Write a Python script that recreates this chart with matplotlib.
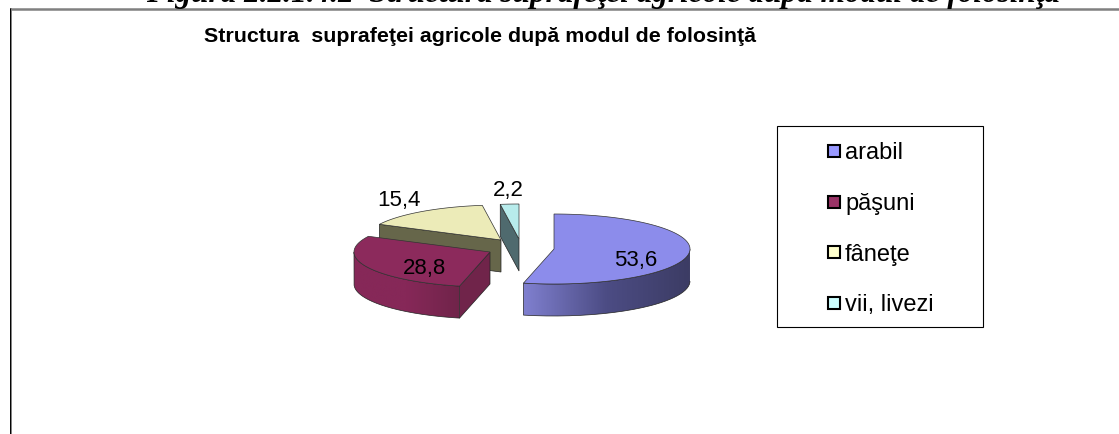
import numpy as np
import matplotlib as mpl
import matplotlib.pyplot as plt
from matplotlib.patches import Polygon, Rectangle, PathPatch
from matplotlib.path import Path
from matplotlib.colors import LinearSegmentedColormap

mpl.rcParams['font.family'] = ['Liberation Sans', 'DejaVu Sans']

heading = "Figura 2.2.1.4.2  Structura suprafeţei agricole după modul de folosinţă"
chart_title = "Structura  suprafeţei agricole după modul de folosinţă"
labels = ["arabil", "păşuni", "fâneţe", "vii, livezi"]
values = [53.6, 28.8, 15.4, 2.2]
value_labels = ["53,6", "28,8", "15,4", "2,2"]

# culori
top_colors = ['#8c8ceb', '#8c2a5c', '#ecebb8', '#b8ecec']
wall_colors = [['#8080d0', '#4c4c84', '#3c3c64'],
               ['#862858', '#862858', '#70244a'],
               ['#66664a', '#66664a', '#66664a'],
               ['#4f6a6e', '#4f6a6e', '#4f6a6e']]
cut_colors = ['#8080d0', '#70244a', '#66664a', '#4f6a6e']
legend_colors = ['#9999ff', '#993366', '#ffffcc', '#ccffff']

# geometrie in pixeli
centers = [(554, 250), (490, 253), (501, 241), (519, 240)]
rx, ry, depth = 136, 35, 32
label_pos = [(636, 261), (425, 269), (399, 201), (508, 191)]


def ell(c, a):
    return c[0] + rx * np.sin(a), c[1] - ry * np.cos(a)


fig = plt.figure(figsize=(11.19, 4.35), dpi=100)
ax = fig.add_axes([0, 0, 1, 1])
ax.set_xlim(0, 1119)
ax.set_ylim(435, 0)
ax.axis('off')

# chenar
ax.plot([10, 1119], [10.2, 10.2], color='#808080', lw=1.8, solid_capstyle='butt')
ax.plot([11, 11], [9, 435], color='#808080', lw=1.4, solid_capstyle='butt')
ax.plot([9.6, 9.6], [9, 435], color='black', lw=0.7, solid_capstyle='butt')

ax.text(603, 2, heading, family='Liberation Serif', fontsize=22.5, weight='bold',
        style='italic', ha='center', va='baseline')
ax.text(479.5, 37, chart_title, fontsize=15.4, weight='bold', ha='center', va='center')

fractions = np.array(values) / sum(values)
edges = np.concatenate([[0], np.cumsum(fractions)]) * 2 * np.pi

# ordinea de desenare: din spate in fata
for i in [2, 3, 1, 0]:
    c = centers[i]
    t = np.linspace(edges[i], edges[i + 1], 120)
    xs, ys = ell(c, t)
    zorder = 3 + [3, 2, 0, 1][i]

    # peretele exterior (doar partea din fata a elipsei)
    front = t[np.cos(t) <= 0]
    if len(front) > 1:
        fx, fy = ell(c, front)
        pts = np.vstack([np.c_[fx, fy], np.c_[fx[::-1], fy[::-1] + depth]])
        clip = PathPatch(Path(np.vstack([pts, pts[0]])), fc='none', ec='none', zorder=zorder)
        ax.add_patch(clip)
        cmap = LinearSegmentedColormap.from_list('w', wall_colors[i])
        im = ax.imshow(np.linspace(0, 1, 256).reshape(1, -1), cmap=cmap, aspect='auto',
                       extent=[fx.min(), fx.max(), fy.max() + depth, fy.min()], zorder=zorder)
        im.set_clip_path(clip)
        ax.plot(np.r_[fx, fx[::-1], fx[0]], np.r_[fy, fy[::-1] + depth, fy[0] + depth],
                color='#222222', lw=0.5, zorder=zorder)

    # fata taieturii, la arabil nu se vede
    if i > 0:
        ex, ey = ell(c, edges[i])
        ax.add_patch(Polygon([c, (ex, ey), (ex, ey + depth), (c[0], c[1] + depth)],
                             closed=True, fc=cut_colors[i], ec='#222222', lw=0.5,
                             zorder=zorder + 0.1))

    ax.add_patch(Polygon(np.vstack([c, np.c_[xs, ys]]), closed=True, fc=top_colors[i],
                         ec='#333333', lw=0.5, zorder=zorder + 0.2))
    ax.text(label_pos[i][0], label_pos[i][1], value_labels[i], fontsize=16, ha='center',
            va='center', color='black', zorder=10)

ax.set_xlim(0, 1119)
ax.set_ylim(435, 0)

# legenda
ax.add_patch(Rectangle((777, 127), 206, 201, fc='white', ec='black', lw=0.8, zorder=2))
for lab, col, y in zip(labels, legend_colors, [152, 203, 253, 304]):
    ax.add_patch(Rectangle((828, y - 6), 12, 12, fc=col, ec='black', lw=1.5, zorder=3))
    ax.text(845, y + 1.5, lab, fontsize=17, ha='left', va='center', zorder=3)

fig.savefig('out.png', dpi=100)
